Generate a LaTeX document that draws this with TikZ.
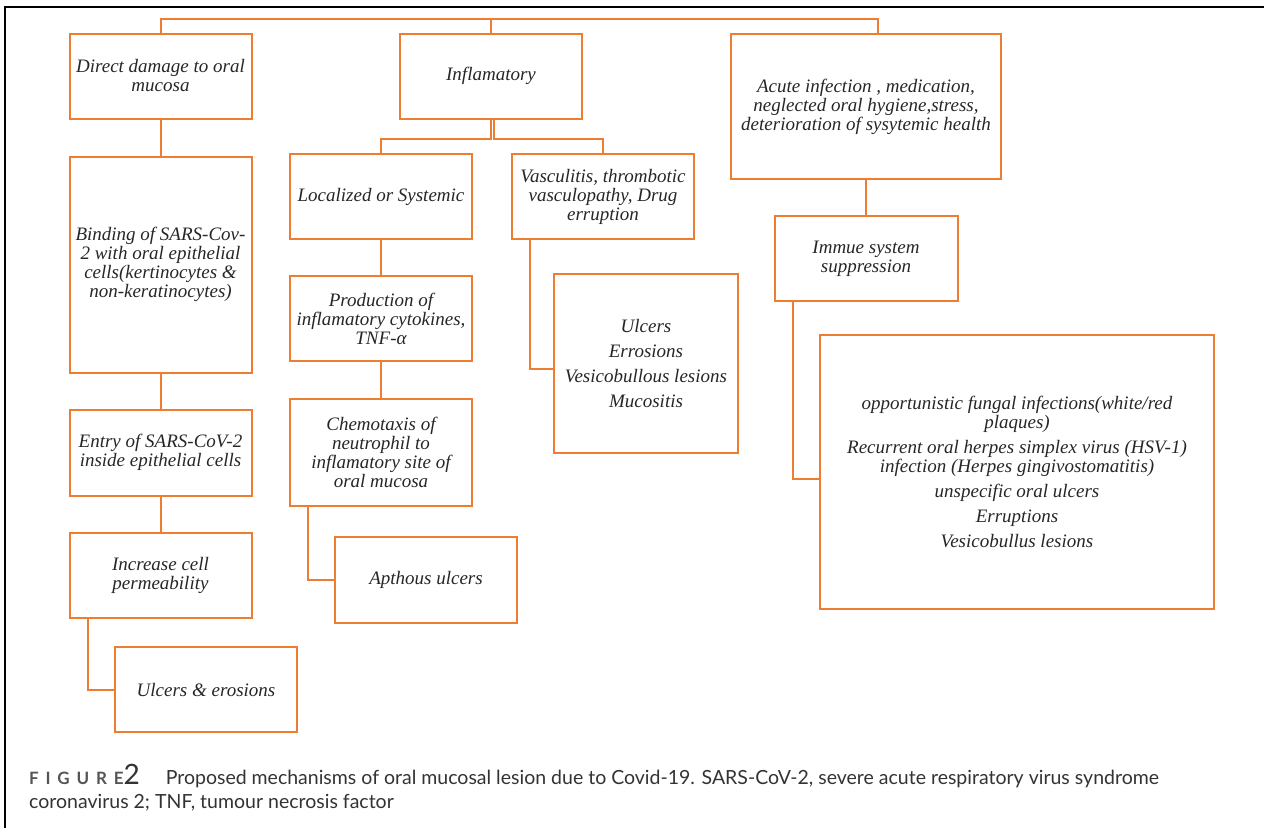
\documentclass[tikz,border=0pt]{standalone}
\usepackage{fontspec}
\setmainfont{Liberation Serif}
\newfontfamily\capfont{Lato}
\usepackage{tikz}
\usetikzlibrary{positioning}
\definecolor{LinkOrange}{HTML}{ED7D31}
\definecolor{TextGrey}{HTML}{262626}
\definecolor{CaptionGrey}{HTML}{333333}
\definecolor{LabelGrey}{HTML}{555555}
\tikzset{
  % Box styles
  stepbox/.style={rectangle, draw=LinkOrange, line width=2pt, minimum width=182pt, minimum height=85pt, inner sep=2pt, text=TextGrey, font=\fontsize{19}{19}\selectfont\itshape, align=center},
  listbox/.style={stepbox, font=\fontsize{19}{25}\selectfont\itshape},
  % Line styles
  link/.style={draw=LinkOrange, line width=2pt},
  frameline/.style={draw=black, line width=2.5pt},
  captext/.style={inner sep=0pt, text=CaptionGrey, font=\capfont\fontsize{19.5}{24}\selectfont, align=left}
}

\begin{document}
\begin{tikzpicture}[x=1pt, y=-1pt]
  \useasboundingbox (0,0) rectangle (1264,828);
  \draw[frameline] (5,828) |- (1264,7);

  % Direct damage branch
  \node[stepbox] (dmg) at (160.5,76) {Direct damage to oral\\mucosa};
  \node[stepbox, minimum height=216pt, below=36pt of dmg] (bind) {Binding of SARS-Cov-\\2 with oral epithelial\\cells(kertinocytes \&\\non-keratinocytes)};
  \node[stepbox, minimum height=86pt, below=35pt of bind] (entry) {Entry of SARS-CoV-2\\inside epithelial cells};
  \node[stepbox, below=35pt of entry] (incr) {Increase cell\\permeability};
  \node[stepbox] (ero) at (206,689.5) {Ulcers \& erosions};

  % Inflamatory branch
  \node[stepbox] (infl) at (491,76) {Inflamatory};
  \node[stepbox] (loc) at (381,196.5) {Localized or Systemic};
  \node[stepbox, right=38pt of loc] (vasc) {Vasculitis, thrombotic\\vasculopathy, Drug\\erruption};
  \node[stepbox, below=35pt of loc] (prod) {Production of\\inflamatory cytokines,\\TNF-α};
  \node[stepbox, minimum height=107pt, below=36pt of prod] (chemo) {Chemotaxis of\\neutrophil to\\inflamatory site of\\oral mucosa};
  \node[stepbox, minimum height=86pt] (aph) at (426,580) {Apthous ulcers};
  \node[listbox, minimum width=184pt, minimum height=179pt] (ulc) at (646,363.5) {Ulcers\\Errosions\\Vesicobullous lesions\\Mucositis};

  % Immune suppression branch
  \node[stepbox, minimum width=270pt, minimum height=145pt] (acute) at (866,106.5) {Acute infection , medication,\\neglected oral hygiene,stress,\\deterioration of sysytemic health};
  \node[stepbox, minimum width=183pt, below=35pt of acute] (immue) {Immue system\\suppression};
  \node[stepbox, minimum width=394pt, minimum height=274pt] (opp) at (1017,472) {opportunistic fungal infections(white/red\\plaques)\\[6pt]Recurrent oral herpes simplex virus (HSV-1)\\infection (Herpes gingivostomatitis)\\[6pt]unspecific oral ulcers\\[6pt]Erruptions\\[6pt]Vesicobullus lesions};

  % Caption
  \node[captext, anchor=north west] (cap) at (29,764) {{\color{LabelGrey}\addfontfeatures{LetterSpace=40}\fontsize{17}{24}\selectfont\bfseries FIGURE}{\fontsize{28}{24}\selectfont\mdseries 2}\hspace{26pt}Proposed mechanisms of oral mucosal lesion due to Covid-19. SARS-CoV-2, severe acute respiratory virus syndrome\\coronavirus 2; TNF, tumour necrosis factor};

  % Connectors
  \coordinate (rail) at (491,19);
  \draw[link] (dmg.north) |- (rail) -| ([xshift=12pt]acute.north);
  \draw[link] (rail) -- (infl.north);
  \draw[link] (dmg) -- (bind);
  \draw[link] (bind) -- (entry);
  \draw[link] (entry) -- (incr);
  \draw[link] ([xshift=-72.5pt]incr.south) |- (ero.west);
  \draw[link] (infl.south) -- ++(0,19) -| (loc.north);
  \draw[link] ([xshift=3pt]infl.south) -- ++(0,19) -| (vasc.north);
  \draw[link] (loc) -- (prod);
  \draw[link] (prod) -- (chemo);
  \draw[link] ([xshift=-73pt]chemo.south) |- (aph.west);
  \draw[link] ([xshift=-73pt]vasc.south) |- ([yshift=-5pt]ulc.west);
  \draw[link] (acute) -- (immue);
  \draw[link] ([xshift=-73.5pt]immue.south) |- ([yshift=-7pt]opp.west);
\end{tikzpicture}
\end{document}
